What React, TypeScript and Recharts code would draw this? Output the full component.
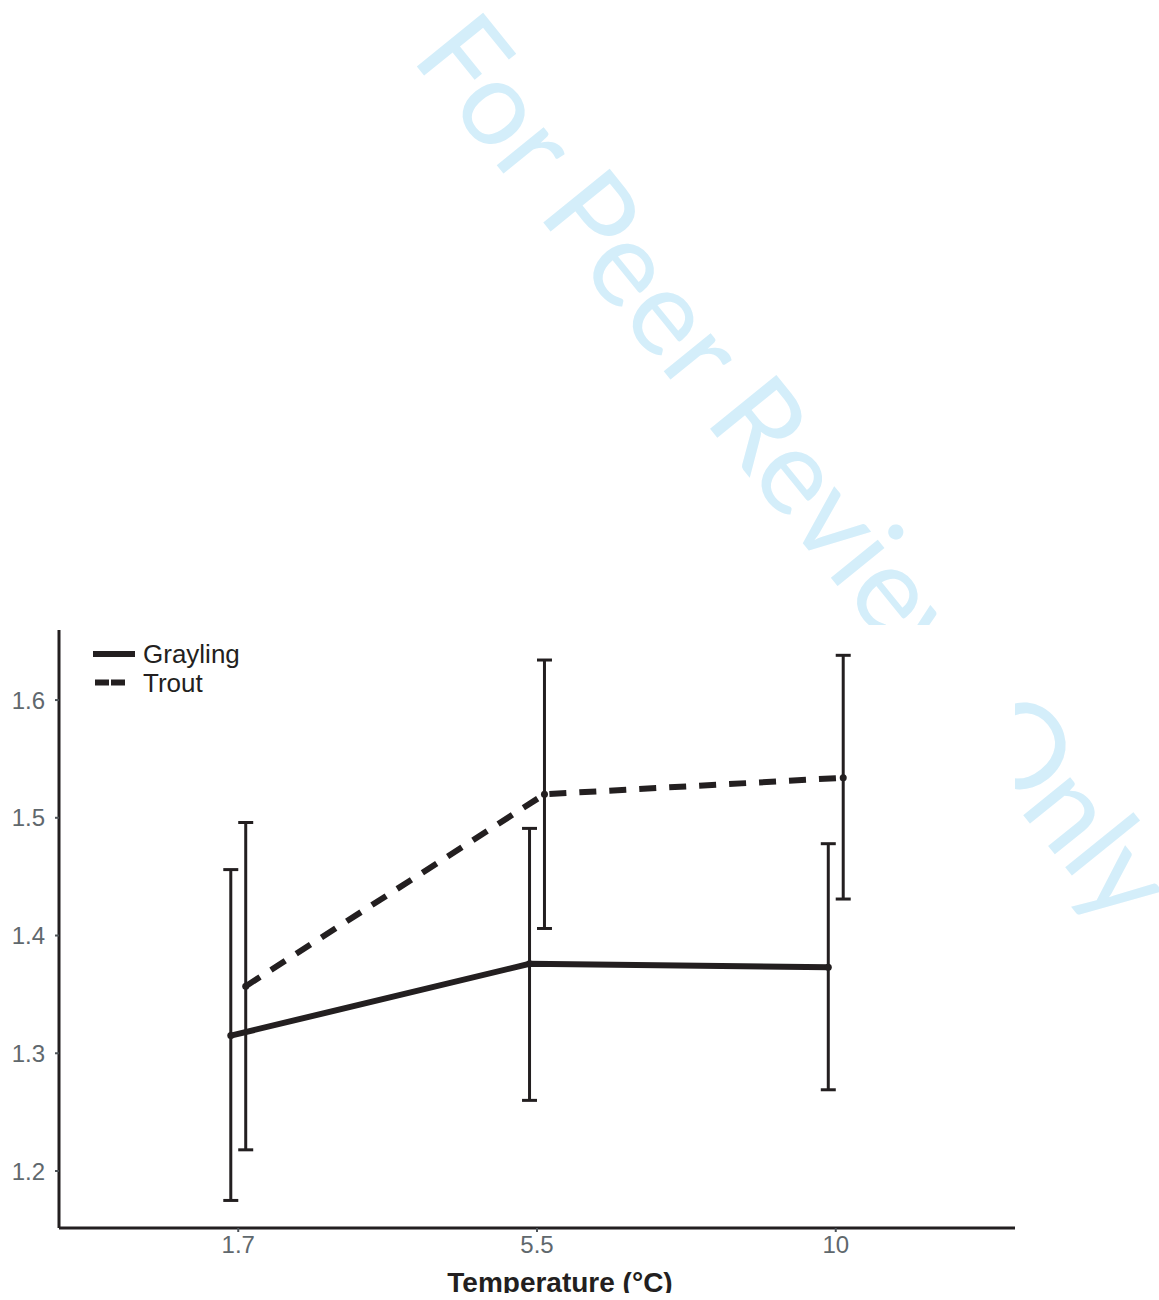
import React from "react";
import {
  ComposedChart,
  Line,
  XAxis,
  YAxis,
  ErrorBar,
  Legend,
} from "recharts";

// ---- data ----
const temperatures = ["1.7", "5.5", "10"];
const graylingMean = [1.315, 1.376, 1.373];
const graylingLow = [1.175, 1.26, 1.269];
const graylingHigh = [1.456, 1.491, 1.478];
const troutMean = [1.357, 1.52, 1.534];
const troutLow = [1.218, 1.406, 1.431];
const troutHigh = [1.496, 1.634, 1.638];
const yTicks = [1.2, 1.3, 1.4, 1.5, 1.6];
const xTicks = [0, 1, 2];
const watermarkText = "For Peer Review Only";

const DODGE = 0.025;
const INK = "#231f20";

const build = (mean: number[], lo: number[], hi: number[], offset: number) =>
  mean.map((m, i) => ({
    x: i + offset,
    y: m,
    err: [m - lo[i], hi[i] - m],
  }));

const graylingData = build(graylingMean, graylingLow, graylingHigh, -DODGE);
const troutData = build(troutMean, troutLow, troutHigh, DODGE);

const dashFor: Record<string, string | undefined> = {
  Grayling: undefined,
  Trout: "14 2",
};

const LegendContent = (props: any) => {
  const payload = props.payload || [];
  return (
    <div style={{ position: "relative", height: 0, width: 0 }}>
      <svg
        width={300}
        height={80}
        style={{ position: "absolute", left: 0, top: 0, overflow: "visible" }}
      >
        {payload.map((p: any, i: number) => {
          const y = 29 + i * 28.5;
          const isG = p.value === "Grayling";
          return (
            <g key={p.value}>
              <line
                x1={isG ? 93 : 95}
                x2={isG ? 135 : 125}
                y1={y}
                y2={y}
                stroke={INK}
                strokeWidth={6}
                strokeDasharray={dashFor[p.value]}
              />
              <text
                x={143}
                y={y + 9}
                fontFamily="Liberation Sans, Arial, sans-serif"
                fontSize={26}
                fill={INK}
              >
                {p.value}
              </text>
            </g>
          );
        })}
      </svg>
    </div>
  );
};

export default function App() {
  return (
    <div
      style={{
        position: "absolute",
        left: 0,
        top: 0,
        width: 1159,
        height: 1300,
        overflow: "hidden",
        background: "#fff",
      }}
    >
      <svg
        width={1159}
        height={1300}
        style={{ position: "absolute", left: 0, top: 0 }}
      >
        <text
          x={410}
          y={58}
          transform="rotate(51 410 58)"
          fontFamily="Lato, 'Open Sans', sans-serif"
          fontSize={119}
          fill="#d4eefa"
        >
          {watermarkText}
        </text>
      </svg>
      <div
        style={{
          position: "absolute",
          left: 0,
          top: 625,
          width: 1015,
          height: 668,
          background: "#fff",
          overflow: "hidden",
        }}
      >
        <ComposedChart
          width={1015}
          height={668}
          margin={{ top: 5, right: 0, bottom: 0, left: 0 }}
        >
          <XAxis
            type="number"
            dataKey="x"
            domain={[-0.6, 2.6]}
            ticks={xTicks}
            allowDataOverflow
            tickFormatter={(v: number) => temperatures[v] ?? ""}
            axisLine={{ stroke: INK, strokeWidth: 3 }}
            tickLine={{ stroke: "#4d5358", strokeWidth: 2 }}
            tickSize={4}
            tickMargin={4}
            height={65}
            tick={{
              fill: "#5f686d",
              fontSize: 24,
              fontFamily: "Liberation Sans, Arial, sans-serif",
            }}
            label={{
              value: "Temperature (°C)",
              position: "insideBottom",
              offset: 1,
              dx: 23,
              fill: INK,
              fontSize: 28,
              fontWeight: "bold",
              fontFamily: "Liberation Sans, Arial, sans-serif",
            }}
          />
          <YAxis
            type="number"
            domain={[1.1516, 1.6595]}
            ticks={yTicks}
            allowDataOverflow
            width={59}
            tickFormatter={(v: number) => v.toFixed(1)}
            axisLine={{ stroke: INK, strokeWidth: 3 }}
            tickLine={{ stroke: "#4d5358", strokeWidth: 2 }}
            tickSize={4}
            tickMargin={10}
            tick={{
              fill: "#5f686d",
              fontSize: 24,
              fontFamily: "Liberation Sans, Arial, sans-serif",
            }}
          />
          <Legend
            verticalAlign="top"
            align="left"
            content={<LegendContent />}
            wrapperStyle={{ position: "absolute", left: 0, top: 0, height: 0 }}
          />
          <Line
            name="Grayling"
            data={graylingData}
            dataKey="y"
            stroke={INK}
            strokeWidth={6}
            dot={{ r: 3.5, fill: INK, stroke: "none" }}
            activeDot={false}
            isAnimationActive={false}
          >
            <ErrorBar
              dataKey="err"
              direction="y"
              width={7.5}
              stroke={INK}
              strokeWidth={3}
              isAnimationActive={false}
            />
          </Line>
          <Line
            name="Trout"
            data={troutData}
            dataKey="y"
            stroke={INK}
            strokeWidth={6}
            strokeDasharray="17 13"
            dot={{ r: 3.5, fill: INK, stroke: "none", strokeDasharray: "" }}
            activeDot={false}
            isAnimationActive={false}
          >
            <ErrorBar
              dataKey="err"
              direction="y"
              width={7.5}
              stroke={INK}
              strokeWidth={3}
              isAnimationActive={false}
            />
          </Line>
        </ComposedChart>
      </div>
    </div>
  );
}
